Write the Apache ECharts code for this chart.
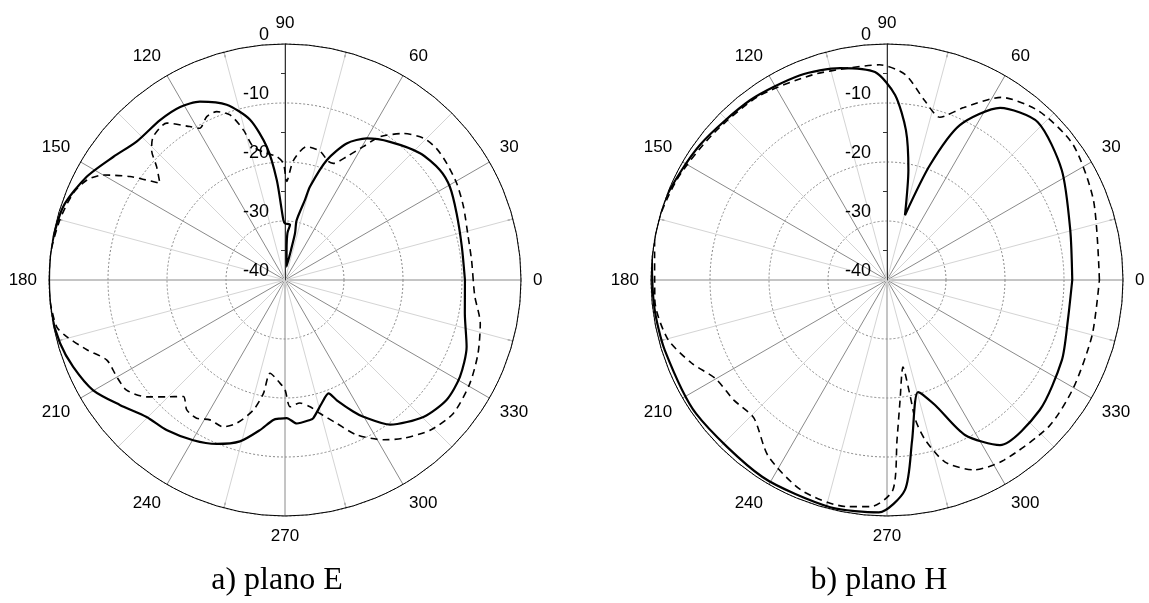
<!DOCTYPE html>
<html><head><meta charset="utf-8">
<script src="https://cdn.jsdelivr.net/npm/echarts@6/dist/echarts.min.js"></script>
<style>html,body{margin:0;padding:0;background:#fff}#c{width:1149px;height:603px}</style>
</head><body><div id="c"></div>
<script>
// angle (deg), level (dB)
const radiusTicks = [-40, -30, -20, -10, 0];
const angleTickStep = 30;
const captions = ['a) plano E', 'b) plano H'];

const eSolid = [[0,-9.5],[10.7,-9.5],[21.2,-8.8],[29.5,-7.9],[35.4,-7.8],[43.2,-8.6],[52.8,-10.6],[60,-12.3],[65.7,-14.6],[70.8,-18.5],[75,-23.6],[76,-26],[79,-29.7],[77.9,-31.9],[78.7,-34.8],[83,-37.7],[87,-34.9],[87,-32],[84.8,-30.6],[90,-30.4],[91.6,-29.8],[94.7,-23],[97.8,-17.2],[102.3,-12.2],[108.4,-8.7],[115.5,-6.5],[121.2,-5.7],[128,-5.6],[137,-5.6],[144.3,-4.2],[152.5,-2.1],[161.7,-0.4],[171.9,0],[180,0],[188.1,0],[195.7,-0.4],[202.3,-1.2],[209.9,-2.5],[217.1,-4.9],[224.7,-7],[231.7,-7.6],[240.2,-8.7],[247.4,-9.9],[254.4,-11.6],[260.5,-14.2],[265.2,-16.2],[268,-16.5],[270.7,-16.6],[274.7,-15.6],[280.1,-15.9],[281.6,-16.1],[286.6,-18.2],[291,-19.4],[293.3,-17.8],[297.4,-14.9],[299.8,-13.3],[306,-9.7],[315.3,-7],[323.4,-5.9],[331,-6.1],[339.8,-7.2],[349.5,-9],[360,-9.5]];

const eDashed = [[0,-8.1],[6.1,-8.2],[13.3,-8.1],[22.3,-7.3],[29.4,-6.6],[35.8,-6.2],[41,-6.0],[45.7,-6.4],[51.1,-8.1],[56.5,-10.9],[59.6,-13.8],[63.4,-16.6],[67.5,-18.6],[70,-18.6],[74.7,-17.4],[80.8,-17.1],[86,-19.7],[89,-23.3],[90.8,-20.2],[93.9,-19],[98.2,-18.3],[103.4,-16.8],[105.5,-13.6],[108.4,-10.5],[112.1,-9.2],[115.6,-9.3],[119.3,-10.5],[121.8,-9.4],[127,-6.7],[132.6,-7.0],[135.7,-8.4],[138.6,-11],[142.3,-13.2],[146.3,-8.4],[150,-4.4],[153.2,-2.4],[157.7,-1.2],[165,-0.5],[173.5,0],[180,0],[184.9,0],[191.6,-0.5],[194.6,-1.8],[199.4,-4.4],[204.2,-6.9],[209.9,-7.1],[214.8,-7.3],[220.2,-9.3],[224.6,-11.8],[228.9,-13.8],[232.9,-12.4],[237.4,-12.2],[241.8,-13.1],[247.2,-13],[251.4,-14.4],[256.3,-17.3],[259.2,-20.4],[260.9,-24],[267.2,-22.5],[270,-21.4],[272.3,-18.5],[276.9,-19],[281.2,-18.1],[284.7,-16.6],[289.8,-14.2],[294.8,-11.1],[301.6,-8.2],[306.8,-6.5],[314,-4.6],[321.6,-3.6],[330.8,-4.1],[339.2,-5.0],[347.5,-6.1],[355,-7.7],[360,-8.1]];

const hSolid = [[0,-8.6],[15.3,-7.8],[32.2,-5],[46.3,-3],[56.7,-5.1],[64.8,-11],[69.5,-19.2],[74.5,-28.6],[79,-21],[82.8,-14.4],[87.5,-8.6],[93.3,-4.7],[102.5,-3.2],[113,-2.3],[127.3,-1.7],[144.2,-0.9],[160,0],[175,0],[187,-0.3],[197.5,-0.5],[215,-0.5],[237.6,-0.5],[256,-0.3],[268,-0.6],[274.9,-4.3],[278.9,-12.5],[285.5,-20.3],[291,-17.3],[296.7,-10.6],[304.4,-6.1],[319.6,-6],[335.4,-7.4],[347.5,-8.6],[360,-8.6]];

const hDashed = [[0,-4],[21,-2.5],[36,-1],[48,-1.5],[58,-3.5],[66,-8],[72,-11],[78,-9],[85,-5],[92,-3.5],[100,-3.5],[110,-3],[125,-2],[140,-1.5],[155,-0.5],[170,0],[185,-0.5],[195,-1.5],[203,-4],[210,-6.5],[218,-7],[226,-7.5],[236,-4],[248,-1.5],[260,-1],[266,-1.5],[271.6,-4.4],[273.6,-12.9],[276.2,-19.5],[280.4,-25],[281.3,-20],[281.5,-15.8],[283.4,-12.2],[287.7,-7.6],[294.6,-4.6],[303,-3.6],[318,-3],[330,-3.5],[345,-4],[360,-4]];

const centers = [[285, 280], [887, 280]];
const R = 236;
const font = 'Liberation Sans, Arial, sans-serif';

const chart = echarts.init(document.getElementById('c'), null, {renderer: 'canvas'});
const polar = centers.map(c => ({center: c, radius: R}));
const angleAxis = centers.map((c, i) => ({
  polarIndex: i, type: 'value', min: 90, max: 450, interval: angleTickStep,
  startAngle: 90, clockwise: false,
  axisLine: {show: true, lineStyle: {color: '#000', width: 1}},
  axisTick: {show: false, inside: true},
  minorTick: {show: true, splitNumber: 2, length: 6, lineStyle: {color: '#333', width: 1}},
  axisLabel: {formatter: v => (v >= 450 ? '' : String(v % 360)), fontSize: 17, color: '#000', margin: 12, fontFamily: font},
  splitLine: {show: true, lineStyle: {color: '#8a8a8a', width: 1}},
  minorSplitLine: {show: true, lineStyle: {color: '#d4d4d4', width: 1}}
}));
const radiusAxis = centers.map((c, i) => ({
  polarIndex: i, type: 'value', min: radiusTicks[0], max: radiusTicks[radiusTicks.length - 1], interval: 10,
  axisLine: {show: true, lineStyle: {color: '#333', width: 1}},
  axisTick: {show: false},
  minorTick: {show: true, splitNumber: 2, length: 4, lineStyle: {color: '#333'}},
  axisLabel: {fontSize: 18, color: '#000', fontFamily: font, margin: 16, verticalAlign: 'bottom'},
  splitLine: {show: true, lineStyle: {color: '#888', width: 1, type: [2, 2]}}
}));
const toData = arr => arr.map(p => [p[1], p[0]]);
const mk = (data, idx, dashed) => ({
  type: 'line', coordinateSystem: 'polar', polarIndex: idx, data: toData(data),
  showSymbol: false, symbol: 'none', clip: false, smooth: 0.25, animation: false,
  lineStyle: dashed ? {color: '#000', width: 1.6, type: [7, 5]} : {color: '#000', width: 2.2}
});
chart.setOption({
  animation: false,
  backgroundColor: '#fff',
  polar, angleAxis, radiusAxis,
  series: [mk(eSolid, 0, false), mk(eDashed, 0, true), mk(hSolid, 1, false), mk(hDashed, 1, true)],
  graphic: captions.map((t, i) => ({
    type: 'text', x: centers[i][0] - 8, y: 581,
    style: {text: t, font: '32px "Liberation Serif", "Times New Roman", serif', fill: '#000', textAlign: 'center', textVerticalAlign: 'middle'}
  }))
});
</script>
</body></html>
